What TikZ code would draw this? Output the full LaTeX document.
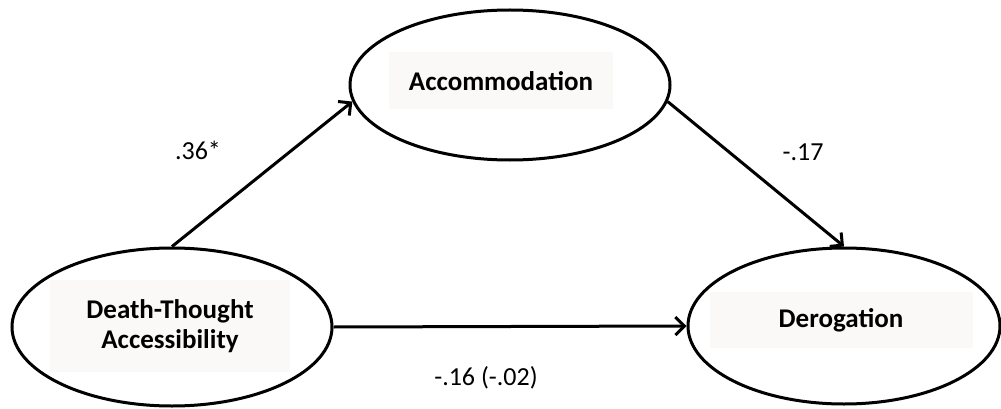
\documentclass[tikz,border=0pt]{standalone}
\usepackage{fontspec}
\setmainfont{Carlito}
\usetikzlibrary{shapes.geometric,arrows.meta}
\definecolor{boxbg}{RGB}{250,249,247}
\tikzset{
  var/.style={ellipse,draw=black,line width=3pt,inner sep=0pt},
  lab/.style={fill=boxbg,font=\fontsize{27}{33}\selectfont\bfseries,align=center,inner sep=0pt},
  coef/.style={font=\fontsize{26}{30}\selectfont,inner sep=0pt},
  path/.style={line width=3pt,-{Straight Barb[length=9pt,width=18pt,line width=3pt]}}
}
\begin{document}
\begin{tikzpicture}[x=1pt,y=-1pt]
\useasboundingbox (0,0) rectangle (1001,409);
\node[var,minimum width=320pt,minimum height=158pt] (L) at (172,327) {};
\node[var,minimum width=320pt,minimum height=150pt] (A) at (510,85) {};
\node[var,minimum width=312pt,minimum height=156pt] (R) at (844,326) {};
\node[lab,minimum width=240pt,minimum height=92pt] (Lt) at (170,326) {Death-Thought\\[-3pt]Accessibility};
\node[lab,minimum width=224pt,minimum height=57pt] (At) at (501,81) {Accommodation};
\node[lab,minimum width=263pt,minimum height=56pt] (Rt) at (841,320) {Derogation};
\draw[path] (L.north) -- (A.186);
\draw[path] (A.-6) -- (R.north);
\draw[path] (L.east) -- (R.west);
\node[coef] (c1) at (198,150) {.36*};
\node[coef] (c2) at (803,152) {-.17};
\node[coef] (c3) at (486,378) {-.16 (-.02)};
\end{tikzpicture}
\end{document}
